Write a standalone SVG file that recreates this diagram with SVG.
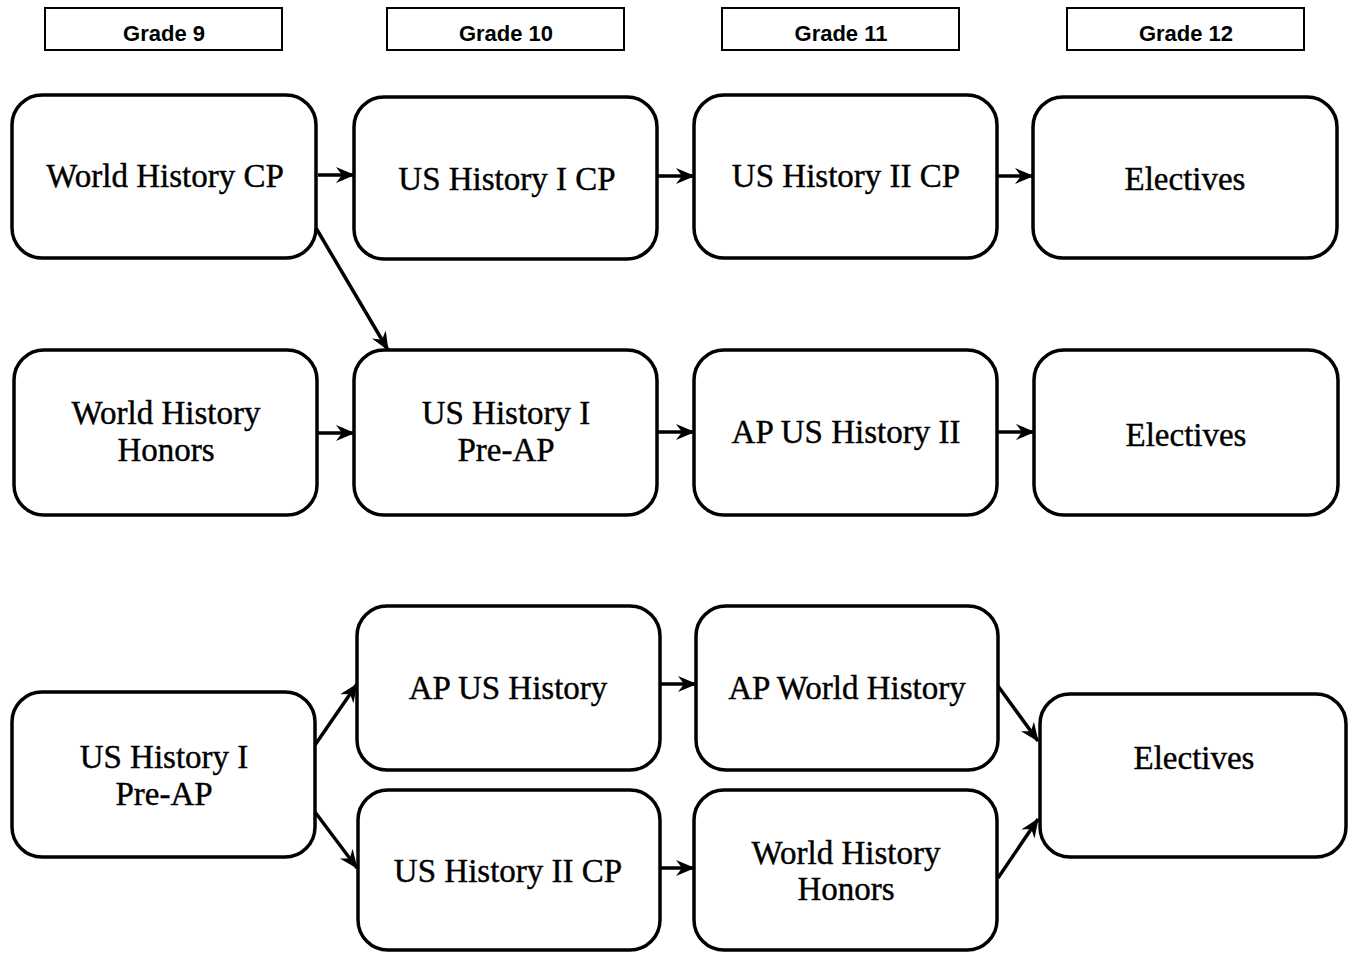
<svg xmlns="http://www.w3.org/2000/svg" width="1354" height="953" viewBox="0 0 1354 953">
<style>
.hdr rect{fill:#fff;stroke:#000;stroke-width:2}
.hdr text{font-family:"Liberation Sans",Arial,sans-serif;font-weight:bold;font-size:22px;text-anchor:middle;fill:#000}
.node rect{fill:#fff;stroke:#000;stroke-width:3.5}
.node text{font-family:"Liberation Serif","Times New Roman",serif;font-size:33px;text-anchor:middle;fill:#000;stroke:#000;stroke-width:0.4}
#connectors line{stroke:#000;stroke-width:3.5;fill:none}
</style>
<defs>
<marker id="arr" markerUnits="userSpaceOnUse" markerWidth="20" markerHeight="18" refX="18" refY="9" orient="auto">
<path d="M0,1 L19,9 L0,17 L6,9 Z" fill="#000"/>
</marker>
</defs>
<rect width="1354" height="953" fill="#fff"/>
<g id="h9" class="hdr"><rect x="45" y="8" width="237" height="42"/><text x="164" y="41">Grade 9</text></g>
<g id="h10" class="hdr"><rect x="387" y="8" width="237" height="42"/><text x="506" y="41">Grade 10</text></g>
<g id="h11" class="hdr"><rect x="722" y="8" width="237" height="42"/><text x="841" y="41">Grade 11</text></g>
<g id="h12" class="hdr"><rect x="1067" y="8" width="237" height="42"/><text x="1186" y="41">Grade 12</text></g>

<g id="n1" class="node"><rect x="12" y="95" width="304" height="163" rx="30"/><text x="165" y="187">World History CP</text></g>
<g id="n2" class="node"><rect x="354" y="97" width="303" height="162" rx="30"/><text x="507" y="190">US History I CP</text></g>
<g id="n3" class="node"><rect x="694" y="95" width="303" height="163" rx="30"/><text x="846" y="187">US History II CP</text></g>
<g id="n4" class="node"><rect x="1033" y="97" width="304" height="161" rx="30"/><text x="1185" y="190">Electives</text></g>

<g id="n5" class="node"><rect x="14" y="350" width="303" height="165" rx="30"/><text x="166" y="424">World History</text><text x="166" y="461">Honors</text></g>
<g id="n6" class="node"><rect x="354" y="350" width="303" height="165" rx="30"/><text x="506" y="424">US History I</text><text x="506" y="461">Pre-AP</text></g>
<g id="n7" class="node"><rect x="694" y="350" width="303" height="165" rx="30"/><text x="846" y="443">AP US History II</text></g>
<g id="n8" class="node"><rect x="1034" y="350" width="304" height="165" rx="30"/><text x="1186" y="446">Electives</text></g>

<g id="n9" class="node"><rect x="12" y="692" width="303" height="165" rx="30"/><text x="164" y="768">US History I</text><text x="164" y="805">Pre-AP</text></g>
<g id="n10" class="node"><rect x="357" y="606" width="303" height="164" rx="30"/><text x="508" y="699">AP US History</text></g>
<g id="n11" class="node"><rect x="358" y="790" width="302" height="160" rx="30"/><text x="508" y="882">US History II CP</text></g>
<g id="n12" class="node"><rect x="696" y="606" width="302" height="164" rx="30"/><text x="847" y="699">AP World History</text></g>
<g id="n13" class="node"><rect x="694" y="790" width="303" height="160" rx="30"/><text x="846" y="864">World History</text><text x="846" y="900">Honors</text></g>
<g id="n14" class="node"><rect x="1040" y="694" width="306" height="163" rx="30"/><text x="1194" y="769">Electives</text></g>

<g id="connectors">
<line x1="318" y1="175" x2="354" y2="175" marker-end="url(#arr)"/>
<line x1="657" y1="176" x2="694" y2="176" marker-end="url(#arr)"/>
<line x1="997" y1="176" x2="1033" y2="176" marker-end="url(#arr)"/>
<line x1="316" y1="228" x2="388" y2="350" marker-end="url(#arr)"/>
<line x1="318" y1="433" x2="354" y2="433" marker-end="url(#arr)"/>
<line x1="657" y1="432" x2="694" y2="432" marker-end="url(#arr)"/>
<line x1="997" y1="432" x2="1034" y2="432" marker-end="url(#arr)"/>
<line x1="315" y1="745" x2="357" y2="684" marker-end="url(#arr)"/>
<line x1="315" y1="812" x2="357" y2="868" marker-end="url(#arr)"/>
<line x1="660" y1="684" x2="696" y2="684" marker-end="url(#arr)"/>
<line x1="660" y1="868" x2="694" y2="868" marker-end="url(#arr)"/>
<line x1="998" y1="686" x2="1038" y2="741" marker-end="url(#arr)"/>
<line x1="998" y1="878" x2="1038" y2="819" marker-end="url(#arr)"/>
</g>
</svg>
